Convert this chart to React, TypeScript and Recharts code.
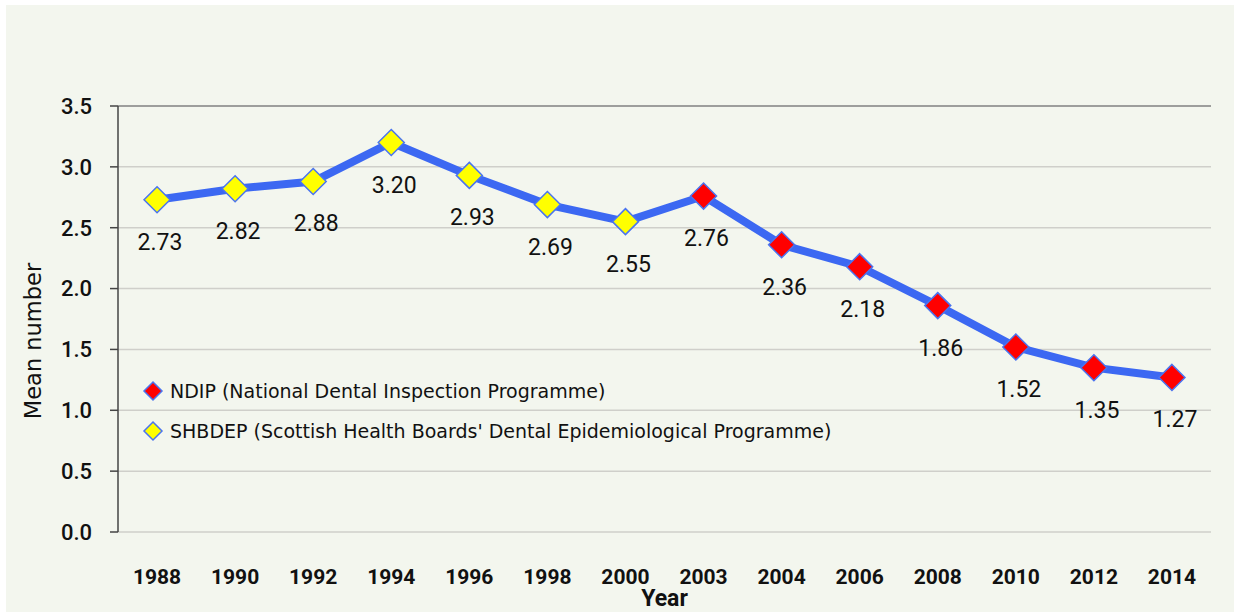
import {
  LineChart,
  Line,
  XAxis,
  YAxis,
  CartesianGrid,
  ReferenceLine,
  LabelList,
  Legend,
} from "recharts";

const years = ["1988", "1990", "1992", "1994", "1996", "1998", "2000", "2003", "2004", "2006", "2008", "2010", "2012", "2014"];
const meanValues = [2.73, 2.82, 2.88, 3.2, 2.93, 2.69, 2.55, 2.76, 2.36, 2.18, 1.86, 1.52, 1.35, 1.27];
const programmes = ["SHBDEP", "SHBDEP", "SHBDEP", "SHBDEP", "SHBDEP", "SHBDEP", "SHBDEP", "NDIP", "NDIP", "NDIP", "NDIP", "NDIP", "NDIP", "NDIP"];
const yTicks = [0, 0.5, 1, 1.5, 2, 2.5, 3, 3.5];
const legendItems = [
  { key: "NDIP", label: "NDIP (National Dental Inspection Programme)" },
  { key: "SHBDEP", label: "SHBDEP (Scottish Health Boards' Dental Epidemiological Programme)" },
];

const markerFill: Record<string, string> = { NDIP: "#FF0000", SHBDEP: "#FFFF00" };
const LINE_BLUE = "#3C68F2";
const FONT = "Roboto, 'DejaVu Sans', sans-serif";
const WIDE_FONT = "'DejaVu Sans', Verdana, sans-serif";

const data = years.map((year, i) => ({ year, value: meanValues[i], prog: programmes[i] }));
const boundaryTicks = years.map((_, i) => i).concat(years.length);

function Diamond({ cx, cy, fill, r = 13 }: { cx: number; cy: number; fill: string; r?: number }) {
  return (
    <path
      d={`M${cx},${cy - r} L${cx + r},${cy} L${cx},${cy + r} L${cx - r},${cy} Z`}
      fill={fill}
      stroke="#4A74F0"
      strokeWidth={1.5}
    />
  );
}

function renderDot(props: any) {
  const { cx, cy, payload, index } = props;
  return <Diamond key={`d-${index}`} cx={cx} cy={cy} fill={markerFill[payload.prog]} />;
}

function renderValueLabel(props: any) {
  const { x, y, value } = props;
  return (
    <text x={x + 3} y={y + 50} textAnchor="middle" fontSize={23} fill="#111" fontFamily={FONT}>
      {Number(value).toFixed(2)}
    </text>
  );
}

function renderYLabel() {
  return (
    <text
      x={33}
      y={341}
      transform="rotate(-90 33 341)"
      textAnchor="middle"
      dominantBaseline="central"
      fontSize={22.5}
      fontFamily={WIDE_FONT}
      fill="#111"
    >
      Mean number
    </text>
  );
}

function renderLegend() {
  return (
    <div style={{ fontFamily: WIDE_FONT, fontSize: 19, color: "#111" }}>
      {legendItems.map((item) => (
        <div key={item.key} style={{ display: "flex", alignItems: "center", height: 40 }}>
          <svg width={22} height={22} style={{ marginRight: 6 }}>
            <Diamond cx={11} cy={11} r={9} fill={markerFill[item.key]} />
          </svg>
          {item.label}
        </div>
      ))}
    </div>
  );
}

export default function App() {
  return (
    <div style={{ position: "absolute", left: 0, top: 0, width: 1234, height: 612, background: "#fff" }}>
      <div style={{ position: "absolute", left: 6, top: 5, width: 1228, height: 607, background: "#F3F6EE" }} />
      <div style={{ position: "absolute", left: 0, top: 0 }}>
        <LineChart width={1234} height={612} data={data} margin={{ top: 106, right: 23, bottom: 0, left: 18 }}>
          <CartesianGrid vertical={false} stroke="#CFCFCA" strokeWidth={1.5} />
          <XAxis
            xAxisId="b"
            type="number"
            domain={[0, years.length]}
            ticks={boundaryTicks}
            tickFormatter={() => ""}
            height={0}
            tickSize={8}
            stroke="#444"
            axisLine={{ stroke: "#444", strokeWidth: 1.5 }}
            tickLine={{ stroke: "#444", strokeWidth: 1.5 }}
          />
          <XAxis
            xAxisId="a"
            dataKey="year"
            scale="band"
            height={80}
            axisLine={false}
            tickLine={false}
            tickSize={0}
            tickMargin={37}
            interval={0}
            tick={{ fill: "#111", fontSize: 21, fontWeight: 700, fontFamily: FONT }}
            label={{ value: "Year", position: "insideBottom", offset: 0, dy: -6, fill: "#111", fontSize: 23, fontWeight: 700, fontFamily: FONT }}
          />
          <YAxis
            domain={[0, 3.5]}
            ticks={yTicks}
            tickFormatter={(v: number) => v.toFixed(1)}
            width={100}
            tickSize={8}
            tickMargin={18}
            axisLine={{ stroke: "#444", strokeWidth: 1.5 }}
            tickLine={{ stroke: "#444", strokeWidth: 1.5 }}
            tick={{ fill: "#111", fontSize: 22, fontWeight: 500, fontFamily: FONT }}
            label={{ content: renderYLabel }}
          />
          <ReferenceLine y={3.5} stroke="#8A8A8A" strokeWidth={1.5} />
          <ReferenceLine xAxisId="b" x={years.length} stroke="#8A8A8A" strokeWidth={1.5} />
          <Legend
            content={renderLegend}
            layout="vertical"
            align="center"
            verticalAlign="middle"
            wrapperStyle={{ position: "absolute", left: 142, top: 371, width: 800 }}
          />
          <Line
            xAxisId="a"
            dataKey="value"
            stroke={LINE_BLUE}
            strokeWidth={8}
            dot={renderDot}
            activeDot={false}
            isAnimationActive={false}
          >
            <LabelList dataKey="value" content={renderValueLabel} />
          </Line>
        </LineChart>
      </div>
    </div>
  );
}
